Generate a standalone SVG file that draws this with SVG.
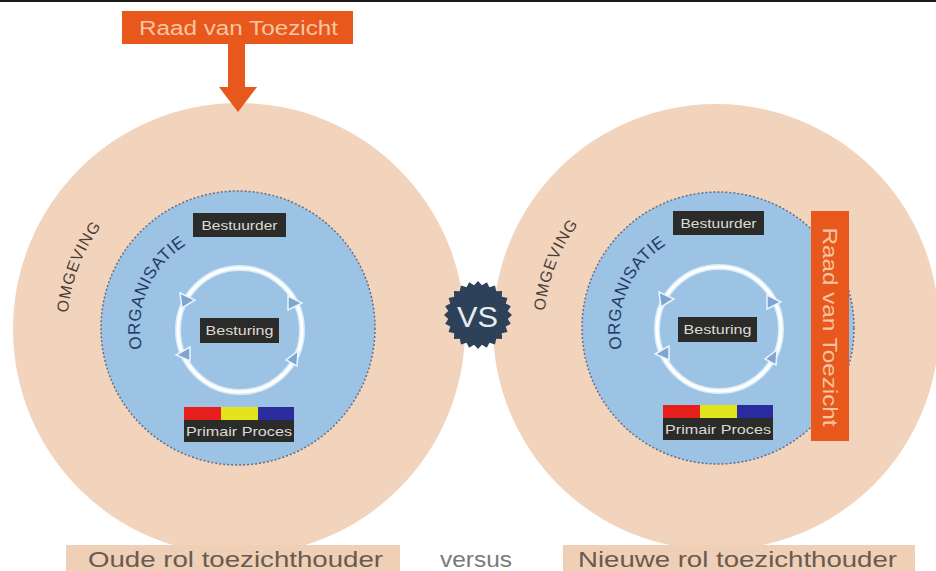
<svg xmlns="http://www.w3.org/2000/svg" width="936" height="571" viewBox="0 0 936 571">
<style>
.outer{fill:#f2d3bc}
.inner{fill:#9cc2e4;stroke:#5d6f8a;stroke-width:1.5;stroke-dasharray:2 2}
.dark{fill:#2b2b29}
.lbl{font-family:"Liberation Sans",Arial,sans-serif;fill:#dcdcd4;font-size:13px}
.orange{fill:#e8571c}
.rvt{font-family:"Liberation Sans",Arial,sans-serif;fill:#f7c6a2;font-size:20px}
.omg{font-family:"Liberation Sans",Arial,sans-serif;fill:#4a3e38;font-size:16px}
.org{font-family:"Liberation Sans",Arial,sans-serif;fill:#253a66;font-size:17px}
.ring{fill:none;stroke:#d6ecfb;stroke-width:6}
.ring2{fill:none;stroke:#ffffff;stroke-width:3}
.tri{fill:#7fa5cf;stroke:#e8f4ff;stroke-width:1.5}
.cap{font-family:"Liberation Sans",Arial,sans-serif;fill:#6a5a52;font-size:22px}
.capbox{fill:#efd0b6}
</style>
<defs>
<path id="omgL" d="M88.6,412.4 A172,172 0 0 1 183.0,166.4"/>
<path id="omgR" d="M565.6,410.4 A172,172 0 0 1 660.0,164.4"/>
<path id="orgL" d="M150.7,372.5 A98,98 0 0 1 209.3,234.3"/>
<path id="orgR" d="M630.7,372.5 A98,98 0 0 1 689.3,234.3"/>
<g id="cycle">
<circle class="ring" cx="0" cy="0" r="62"/>
<circle class="ring2" cx="0" cy="0" r="62"/>
<polygon class="tri" points="-60,-37 -45,-30 -58,-22"/>
<polygon class="tri" points="48,-34 62,-27 48,-20"/>
<polygon class="tri" points="-50,17 -50,31 -64,25"/>
<polygon class="tri" points="58,21 57,36 46,30"/>
</g>
</defs>
<rect x="0" y="0" width="936" height="2" fill="#1a1a1a"/>

<g id="omgeving-left">
<circle class="outer" cx="239" cy="329" r="226"/>
<text class="omg"><textPath href="#omgL" startOffset="50%" text-anchor="middle" textLength="94" lengthAdjust="spacing">OMGEVING</textPath></text>
</g>
<g id="omgeving-right">
<circle class="outer" cx="716" cy="327" r="223"/>
<text class="omg"><textPath href="#omgR" startOffset="50%" text-anchor="middle" textLength="94" lengthAdjust="spacing">OMGEVING</textPath></text>
</g>

<g id="organisatie-left">
<circle class="inner" cx="238" cy="328" r="137"/>
<text class="org"><textPath href="#orgL" startOffset="50%" text-anchor="middle" textLength="120" lengthAdjust="spacing">ORGANISATIE</textPath></text>
</g>
<g id="organisatie-right">
<circle class="inner" cx="718" cy="328" r="136"/>
<text class="org"><textPath href="#orgR" startOffset="50%" text-anchor="middle" textLength="120" lengthAdjust="spacing">ORGANISATIE</textPath></text>
</g>

<g id="bestuurder-left">
<rect class="dark" x="193" y="213" width="93" height="24"/>
<text class="lbl" x="239.5" y="229.5" text-anchor="middle" textLength="76" lengthAdjust="spacingAndGlyphs">Bestuurder</text>
</g>
<g id="bestuurder-right">
<rect class="dark" x="673" y="211" width="91" height="24"/>
<text class="lbl" x="718.5" y="227.5" text-anchor="middle" textLength="76" lengthAdjust="spacingAndGlyphs">Bestuurder</text>
</g>

<g id="besturing-left">
<use href="#cycle" x="240" y="330"/>
<rect class="dark" x="200" y="318" width="79" height="25"/>
<text class="lbl" x="239.5" y="335" text-anchor="middle" textLength="68" lengthAdjust="spacingAndGlyphs">Besturing</text>
</g>
<g id="besturing-right">
<use href="#cycle" x="719" y="329"/>
<rect class="dark" x="678" y="317" width="79" height="25"/>
<text class="lbl" x="717.5" y="334" text-anchor="middle" textLength="68" lengthAdjust="spacingAndGlyphs">Besturing</text>
</g>

<g id="primair-left">
<rect x="184" y="407" width="37" height="13" fill="#e61e1c"/>
<rect x="221" y="407" width="37" height="13" fill="#e4e41c"/>
<rect x="258" y="407" width="36" height="13" fill="#2a2c9e"/>
<rect class="dark" x="184" y="420" width="110" height="22"/>
<text class="lbl" x="239" y="436" text-anchor="middle" textLength="106" lengthAdjust="spacingAndGlyphs">Primair Proces</text>
</g>
<g id="primair-right">
<rect x="663" y="405" width="37" height="13" fill="#e61e1c"/>
<rect x="700" y="405" width="37" height="13" fill="#e4e41c"/>
<rect x="737" y="405" width="36" height="13" fill="#2a2c9e"/>
<rect class="dark" x="663" y="418" width="110" height="22"/>
<text class="lbl" x="718" y="434" text-anchor="middle" textLength="106" lengthAdjust="spacingAndGlyphs">Primair Proces</text>
</g>

<g id="raad-top">
<rect class="orange" x="122" y="11" width="231" height="33"/>
<text class="rvt" x="238.5" y="35" text-anchor="middle" textLength="199" lengthAdjust="spacingAndGlyphs">Raad van Toezicht</text>
</g>
<g id="raad-right">
<rect class="orange" x="811" y="211" width="38" height="230"/>
<text class="rvt" transform="translate(830,327) rotate(90)" x="0" y="7" text-anchor="middle" textLength="199" lengthAdjust="spacingAndGlyphs">Raad van Toezicht</text>
</g>

<g id="connectors">
<polygon class="orange" points="228,44 245,44 245,87 257,87 238,112 219,87 228,87"/>
</g>

<g id="vs">
<polygon transform="translate(478,315)" fill="#2d4259" points="34,0 29.74,3.92 32.84,8.80 27.72,11.48 29.44,17.00 23.80,18.26 24.04,24.04 18.26,23.80 17.00,29.44 11.48,27.72 8.80,32.84 3.92,29.74 0,34 -3.92,29.74 -8.80,32.84 -11.48,27.72 -17.00,29.44 -18.26,23.80 -24.04,24.04 -23.80,18.26 -29.44,17.00 -27.72,11.48 -32.84,8.80 -29.74,3.92 -34,0 -29.74,-3.92 -32.84,-8.80 -27.72,-11.48 -29.44,-17.00 -23.80,-18.26 -24.04,-24.04 -18.26,-23.80 -17.00,-29.44 -11.48,-27.72 -8.80,-32.84 -3.92,-29.74 0,-34 3.92,-29.74 8.80,-32.84 11.48,-27.72 17.00,-29.44 18.26,-23.80 24.04,-24.04 23.80,-18.26 29.44,-17.00 27.72,-11.48 32.84,-8.80 29.74,-3.92"/>
<text x="477.5" y="327" text-anchor="middle" font-family="'Liberation Sans',Arial,sans-serif" font-size="29" fill="#e6ecf2" textLength="41" lengthAdjust="spacingAndGlyphs">VS</text>
</g>

<g id="caption-left">
<rect class="capbox" x="66" y="545" width="334" height="26"/>
<text class="cap" x="235.5" y="567" text-anchor="middle" textLength="295" lengthAdjust="spacingAndGlyphs">Oude rol toezichthouder</text>
</g>
<g id="caption-versus">
<text x="476" y="567" text-anchor="middle" font-family="'Liberation Sans',Arial,sans-serif" font-size="22" fill="#7a7a7a" textLength="72" lengthAdjust="spacingAndGlyphs">versus</text>
</g>
<g id="caption-right">
<rect class="capbox" x="563" y="545" width="352" height="26"/>
<text class="cap" x="737.5" y="567" text-anchor="middle" textLength="319" lengthAdjust="spacingAndGlyphs">Nieuwe rol toezichthouder</text>
</g>
</svg>
